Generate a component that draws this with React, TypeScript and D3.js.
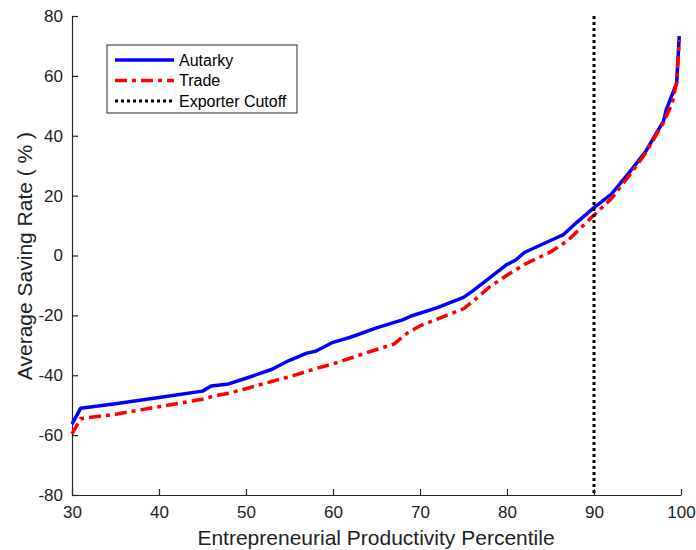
import React, { useEffect, useRef } from 'react';
import * as d3 from 'd3';

// percentile grid and saving rates
const autarkyX = [30, 31, 35, 40, 45, 46, 48, 50, 53, 55, 57, 58, 60, 62, 65, 68, 69, 72, 75, 76, 78, 80, 81, 82, 85, 86.5, 88, 90, 92, 94, 96, 98, 98.3, 99.5, 99.8];
const autarkyY = [-56.3, -51, -49.5, -47.4, -45.3, -43.6, -42.9, -41, -38, -35, -32.6, -32, -29, -27.3, -24.2, -21.5, -20.2, -17.4, -14, -12, -7.5, -3, -1.5, 1, 5, 7, 11, 16, 20.5, 27.5, 35, 45, 48.6, 57.6, 73.3];

const tradeX = [30, 31, 35, 40, 45, 46, 48, 50, 52, 55, 58, 60, 65, 67, 68.5, 70, 75, 76, 78, 80, 82, 85, 87, 90, 92, 94, 96, 98, 99, 99.5, 99.8];
const tradeY = [-59.6, -54.5, -53, -50.5, -48, -47.2, -46, -44.5, -42.8, -40.5, -37.8, -36.2, -31.4, -29.6, -26, -23.5, -17.8, -15.5, -10.5, -6.6, -3, 1.2, 5, 13.5, 19, 26.5, 34.5, 44.5, 51, 58, 72];

const cutoff = 90;
const xTicks = [30, 40, 50, 60, 70, 80, 90, 100];
const yTicks = [-80, -60, -40, -20, 0, 20, 40, 60, 80];

export default function App() {
    const ref = useRef<SVGSVGElement>(null);

    useEffect(() => {
        const svg = d3.select(ref.current);
        svg.selectAll('*').remove();

        const width = 696, height = 550;
        const margin = { top: 16, right: 15, bottom: 55, left: 72 };
        const font = 'Liberation Sans, Arial, sans-serif';
        const axisColor = '#262626';

        const x = d3.scaleLinear().domain([30, 100]).range([margin.left, width - margin.right]);
        const y = d3.scaleLinear().domain([-80, 80]).range([height - margin.bottom, margin.top]);

        // axes, ticks pointing inward, plain hyphen minus like the original
        const xAxis = svg.append('g')
            .attr('transform', `translate(0,${height - margin.bottom})`)
            .call(d3.axisBottom(x).tickValues(xTicks).tickFormat(d => String(d)).tickSizeInner(-6).tickSizeOuter(0).tickPadding(9));
        const yAxis = svg.append('g')
            .attr('transform', `translate(${margin.left},0)`)
            .call(d3.axisLeft(y).tickValues(yTicks).tickFormat(d => String(d)).tickSizeInner(-6).tickSizeOuter(0).tickPadding(9));

        [xAxis, yAxis].forEach(g => {
            g.select('.domain').attr('stroke', axisColor).attr('stroke-width', 1.2);
            g.selectAll('.tick line').attr('stroke', axisColor).attr('stroke-width', 1.2);
            g.selectAll('.tick text').attr('fill', '#222').attr('font-size', 17).attr('font-family', font);
        });
        xAxis.selectAll('.tick text').attr('dy', '0.85em');

        svg.append('text')
            .attr('x', 376)
            .attr('y', 545)
            .attr('text-anchor', 'middle')
            .attr('font-size', 21)
            .attr('font-family', font)
            .attr('fill', '#222')
            .text('Entrepreneurial Productivity Percentile');

        svg.append('text')
            .attr('transform', `translate(32,256) rotate(-90)`)
            .attr('text-anchor', 'middle')
            .attr('font-size', 21)
            .attr('font-family', font)
            .attr('fill', '#222')
            .text('Average Saving Rate ( % )');

        const line = d3.line<[number, number]>()
            .x(d => x(d[0]))
            .y(d => y(d[1]));

        svg.append('path')
            .datum(autarkyX.map((v, i) => [v, autarkyY[i]] as [number, number]))
            .attr('fill', 'none')
            .attr('stroke', '#0000ff')
            .attr('stroke-width', 3.5)
            .attr('stroke-linejoin', 'round')
            .attr('d', line);

        svg.append('path')
            .datum(tradeX.map((v, i) => [v, tradeY[i]] as [number, number]))
            .attr('fill', 'none')
            .attr('stroke', '#ff0000')
            .attr('stroke-width', 3.5)
            .attr('stroke-dasharray', '12 5 4 5')
            .attr('d', line);

        svg.append('line')
            .attr('x1', x(cutoff)).attr('x2', x(cutoff))
            .attr('y1', y(80)).attr('y2', y(-80))
            .attr('stroke', '#000')
            .attr('stroke-width', 3)
            .attr('stroke-dasharray', '3 3');

        // legend
        const lg = svg.append('g').attr('transform', 'translate(107,45)');
        lg.append('rect')
            .attr('width', 190).attr('height', 68)
            .attr('fill', '#fff').attr('stroke', '#262626').attr('stroke-width', 1);
        const items = [
            { label: 'Autarky', color: '#0000ff', dash: null as string | null, w: 3.5 },
            { label: 'Trade', color: '#ff0000', dash: '12 5 4 5', w: 3.5 },
            { label: 'Exporter Cutoff', color: '#000', dash: '3 3', w: 3 },
        ];
        items.forEach((it, i) => {
            const cy = 15 + i * 20.5;
            lg.append('line')
                .attr('x1', 8).attr('x2', 67).attr('y1', cy).attr('y2', cy)
                .attr('stroke', it.color).attr('stroke-width', it.w)
                .attr('stroke-dasharray', it.dash);
            lg.append('text')
                .attr('x', 72).attr('y', cy)
                .attr('dy', '0.36em')
                .attr('font-size', 16)
                .attr('font-family', font)
                .attr('fill', '#000')
                .text(it.label);
        });
    }, []);

    return <svg ref={ref} width={696} height={550} style={{ position: 'absolute', left: 0, top: 0, background: '#fff' }} />;
}
